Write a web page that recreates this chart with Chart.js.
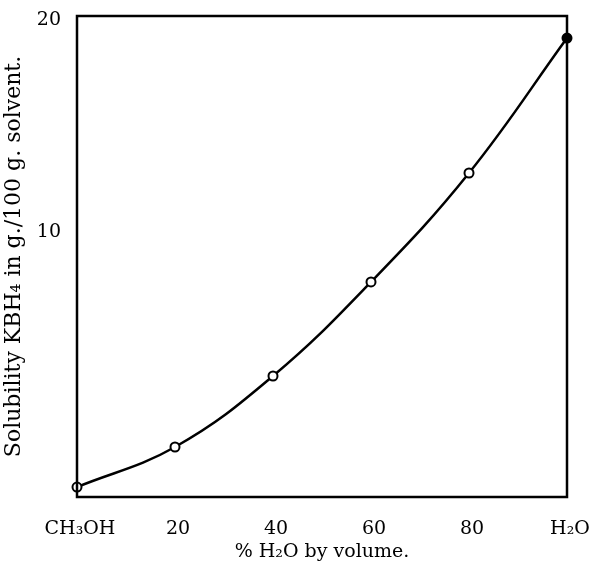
<!DOCTYPE html>
<html>
<head>
<meta charset="utf-8">
<script src="https://cdn.jsdelivr.net/npm/chart.js@4"></script>
<style>
    html, body { margin: 0; padding: 0; background: #fff; }
    #wrap { width: 591px; height: 562px; }
</style>
</head>
<body>
<div id="wrap"><canvas id="solubilityChart"></canvas></div>
<script>
// % water by volume in the methanol-water solvent
const waterPercent = [0, 20, 40, 60, 80, 100];
// solubility of KBH4, g per 100 g solvent (read against the printed y labels)
const solubility = [-2.03, -0.14, 3.21, 7.65, 12.79, 19.16];

const xTickValues = [0, 20, 40, 60, 80, 100];
const xTickLabels = ['CH₃OH', '20', '40', '60', '80', 'H₂O'];
const yTickValues = [10, 20];

const serif = '"DejaVu Serif", "Liberation Serif", serif';

// box around the plot area
const frame = {
    id: 'frame',
    afterDraw(chart) {
        const { ctx, chartArea } = chart;
        ctx.save();
        ctx.strokeStyle = '#000';
        ctx.lineWidth = 2.5;
        ctx.strokeRect(chartArea.left, chartArea.top, chartArea.right - chartArea.left, chartArea.bottom - chartArea.top);
        ctx.restore();
    }
};

new Chart(document.getElementById('solubilityChart'), {
    type: 'line',
    data: {
        datasets: [{
            label: 'Solubility',
            data: waterPercent.map((x, i) => ({ x, y: solubility[i] })),
            borderColor: '#000',
            borderWidth: 2.5,
            tension: 0.4,
            pointRadius: 4.5,
            pointBorderWidth: 2,
            pointBorderColor: '#000',
            pointBackgroundColor: ctx => ctx.dataIndex === waterPercent.length - 1 ? '#000' : '#fff',
            clip: false
        }]
    },
    options: {
        responsive: true,
        maintainAspectRatio: false,
        animation: false,
        layout: { padding: { left: 0, right: 24, top: 16, bottom: 0 } },
        plugins: {
            legend: { display: false },
            tooltip: { enabled: false }
        },
        scales: {
            x: {
                type: 'linear',
                min: 0,
                max: 100,
                afterBuildTicks: scale => { scale.ticks = xTickValues.map(v => ({ value: v })); },
                afterFit: scale => {
                    scale.height = 65;
                    scale.paddingLeft = 0;
                    scale.paddingRight = 0;
                },
                grid: { display: false, drawTicks: false },
                border: { display: false },
                ticks: {
                    padding: 21,
                    labelOffset: 3,
                    maxRotation: 0,
                    color: '#000',
                    font: { family: serif, size: 19 },
                    callback: (value, i) => xTickLabels[i]
                },
                title: {
                    display: true,
                    text: '% H₂O by volume.',
                    color: '#000',
                    font: { family: serif, size: 19 },
                    padding: { top: 0, bottom: -1 }
                }
            },
            y: {
                min: -2.5,
                max: 20.2,
                afterBuildTicks: scale => { scale.ticks = yTickValues.map(v => ({ value: v })); },
                afterFit: scale => {
                    scale.width = 77;
                    scale.paddingTop = 0;
                    scale.paddingBottom = 0;
                },
                grid: { display: false, drawTicks: false },
                border: { display: false },
                ticks: {
                    padding: 16,
                    color: '#000',
                    font: { family: serif, size: 19 }
                },
                title: {
                    display: true,
                    text: 'Solubility KBH₄ in g./100 g. solvent.',
                    color: '#000',
                    font: { family: serif, size: 22 },
                    padding: { top: 1, bottom: 0 }
                }
            }
        }
    },
    plugins: [frame]
});
</script>
</body>
</html>
